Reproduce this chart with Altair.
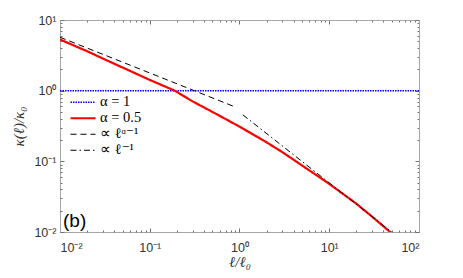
import altair as alt
import pandas as pd

# ---- data ----
series_names = ["α = 1", "α = 0.5", "∝ ℓᵅ⁻¹", "∝ ℓ⁻¹"]

blue_x = [0.01, 100]
blue_y = [1.0, 1.0]

red_x = [0.01, 0.02, 0.03, 0.05, 0.1, 0.19, 0.3, 0.5, 1, 2, 3, 5, 10, 20, 30, 50]
red_y = [5.3, 3.62, 2.85, 2.12, 1.42, 1.0, 0.705, 0.50, 0.31, 0.186, 0.135, 0.087,
         0.048, 0.0252, 0.0165, 0.0095]

dash_x = [0.01, 0.86]
dash_y = [5.7, 0.6]

dashdot_x = [1.09, 50]
dashdot_y = [0.455, 0.0099]

x_major = [0.01, 0.1, 1, 10, 100]
y_major = [0.01, 0.1, 1, 10]
x_all = [m * d for d in [0.01, 0.1, 1, 10] for m in range(1, 10)] + [100]
y_all = [m * d for d in [0.01, 0.1, 1] for m in range(1, 10)] + [10]

rows = []
for name, xs, ys in zip(series_names,
                        [blue_x, red_x, dash_x, dashdot_x],
                        [blue_y, red_y, dash_y, dashdot_y]):
    for i, (a, b) in enumerate(zip(xs, ys)):
        rows.append({"series": name, "x": a, "y": b, "order": i})
df = pd.DataFrame(rows)

W, H = 359, 212
FRAME = "#a6a6a6"
TICK = "#707070"
LABEL = "#333333"

xscale = alt.Scale(type="log", domain=[0.01, 100], nice=False)
yscale = alt.Scale(type="log", domain=[0.01, 10], nice=False)

x_label_expr = ("datum.value < 0.05 ? '10⁻²' : datum.value < 0.5 ? '10⁻¹' : "
                "datum.value < 5 ? '10⁰' : datum.value < 50 ? '10¹' : '10²'")
y_label_expr = ("datum.value < 0.05 ? '10⁻²' : datum.value < 0.5 ? '10⁻¹' : "
                "datum.value < 5 ? '10⁰' : '10¹'")

major_test = "abs(log(datum.value)/LN10 - round(log(datum.value)/LN10)) < 0.001"
tick_size = {"condition": {"test": major_test, "value": 4}, "value": 2}

base = alt.Chart(df)

lines = base.mark_line(clip=True).encode(
    x=alt.X("x:Q", scale=xscale,
            axis=alt.Axis(orient="bottom", values=x_major, labelExpr=x_label_expr,
                          ticks=False, grid=False, domain=True, domainColor=FRAME,
                          labelColor=LABEL, labelFont="Liberation Sans", labelFontSize=12.5,
                          labelPadding=9, title="ℓ/ℓ₀", titleFont="Liberation Serif",
                          titleFontStyle="italic", titleFontWeight="normal",
                          titleFontSize=15, titleColor=LABEL, titlePadding=1)),
    y=alt.Y("y:Q", scale=yscale,
            axis=alt.Axis(orient="left", values=y_major, labelExpr=y_label_expr,
                          ticks=False, grid=False, domain=True, domainColor=FRAME,
                          labelColor=LABEL, labelFont="Liberation Sans", labelFontSize=12.5,
                          labelPadding=4, title="κ(ℓ)/κ₀", titleFont="Liberation Serif",
                          titleFontStyle="italic", titleFontWeight="normal",
                          titleFontSize=15, titleColor=LABEL, titlePadding=7)),
    color=alt.Color("series:N",
                    scale=alt.Scale(domain=series_names,
                                    range=["#0000ff", "#ff0000", "#000000", "#000000"]),
                    legend=alt.Legend(title=None, orient="none", legendX=9, legendY=75,
                                      symbolType="stroke", symbolSize=625,
                                      labelFont="Liberation Serif", labelFontSize=14.5,
                                      labelColor="#000000", labelOffset=3,
                                      clipHeight=14.5, rowPadding=0, padding=0)),
    strokeDash=alt.StrokeDash("series:N",
                              scale=alt.Scale(domain=series_names,
                                              range=[[1.5, 1], [1, 0], [6, 4], [6, 3, 1.5, 3]])),
    strokeWidth=alt.StrokeWidth("series:N",
                                scale=alt.Scale(type="ordinal", domain=series_names,
                                                range=[1.5, 2.2, 1, 1])),
    order="order:Q",
)

ticks_a = base.mark_line(strokeOpacity=0).encode(
    x=alt.X("x:Q", scale=xscale,
            axis=alt.Axis(orient="top", offset=-H, values=x_all, labels=False,
                          domain=False, grid=False, tickColor=TICK, tickSize=tick_size,
                          title="")),
    y=alt.Y("y:Q", scale=yscale,
            axis=alt.Axis(orient="right", offset=-W, values=y_all, labels=False,
                          domain=False, grid=False, tickColor=TICK, tickSize=tick_size,
                          title="")),
)

ticks_b = base.mark_line(strokeOpacity=0).encode(
    x=alt.X("x:Q", scale=xscale,
            axis=alt.Axis(orient="bottom", offset=-H, values=x_all, labels=False,
                          domain=True, domainColor=FRAME, grid=False, tickColor=TICK,
                          tickSize=tick_size, title="")),
    y=alt.Y("y:Q", scale=yscale,
            axis=alt.Axis(orient="left", offset=-W, values=y_all, labels=False,
                          domain=True, domainColor=FRAME, grid=False, tickColor=TICK,
                          tickSize=tick_size, title="")),
)

panel = alt.Chart(pd.DataFrame({"t": ["(b)"]})).mark_text(
    align="left", baseline="middle", font="Liberation Sans", fontSize=19, color="#000000"
).encode(text="t:N", x=alt.value(3), y=alt.value(201))

chart = alt.layer(lines, ticks_a, ticks_b, panel).resolve_axis(
    x="independent", y="independent"
).properties(
    width=W, height=H,
    autosize=alt.AutoSizeParams(type="none"),
    padding={"left": 52, "top": 12, "right": 36, "bottom": 38},
).configure_view(stroke=None).configure(background="white")

chart.save("out.html", embed_options={"renderer": "svg", "actions": False})
